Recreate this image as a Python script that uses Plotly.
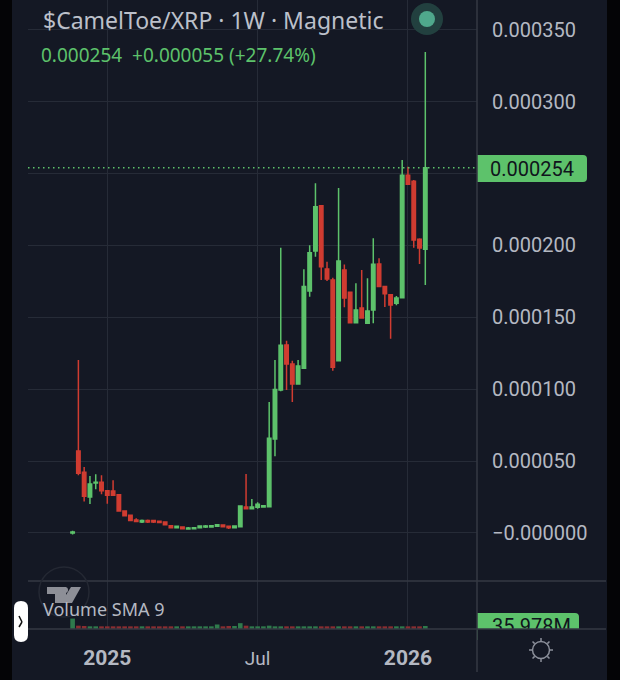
import math
import numpy as np
import plotly.graph_objects as go

W, H = 620, 680
FIG_H = 689  # the photo comes out a little squashed vertically, so the page is drawn taller

dates = ["2024-11-25", "2024-12-02", "2024-12-09", "2024-12-16", "2024-12-23", "2024-12-30",
         "2025-01-06", "2025-01-13", "2025-01-20", "2025-01-27", "2025-02-03", "2025-02-10", "2025-02-17", "2025-02-24",
         "2025-03-03", "2025-03-10", "2025-03-17", "2025-03-24", "2025-03-31", "2025-04-07", "2025-04-14", "2025-04-21", "2025-04-28",
         "2025-05-05", "2025-05-12", "2025-05-19", "2025-05-26", "2025-06-02", "2025-06-09", "2025-06-16", "2025-06-23", "2025-06-30",
         "2025-07-07", "2025-07-14", "2025-07-21", "2025-07-28", "2025-08-04", "2025-08-11", "2025-08-18", "2025-08-25",
         "2025-09-01", "2025-09-08", "2025-09-15", "2025-09-22", "2025-09-29", "2025-10-06", "2025-10-13", "2025-10-20", "2025-10-27",
         "2025-11-03", "2025-11-10", "2025-11-17", "2025-11-24", "2025-12-01", "2025-12-08", "2025-12-15", "2025-12-22", "2025-12-29",
         "2026-01-05", "2026-01-12", "2026-01-19", "2026-01-26"]

# prices in millionths of XRP
opens = [0.0, 57.0, 42.2, 25.0, 34.8, 35.2, 29.4, 29.2, 26.6, 15.3, 12.3, 9.0, 7.6, 8.6, 8.6, 8.1, 7.6, 5.1, 3.7, 4.2, 2.8,
         3.0, 3.7, 4.2, 4.2, 4.6, 5.6, 4.6, 3.7, 4.4, 18.1, 16.9, 17.8, 18.1, 18.3, 65.4, 99.4, 130.7, 117.5, 103.6, 114.5,
         168.2, 196.1, 227.6, 183.5, 175.9, 119.8, 182.9, 167.3, 146.2, 156.4, 145.8, 155.0, 187.0, 171.3, 165.7, 159.7,
         163.6, 248.7, 244.5, 204.2, 197.2]
highs = [1.5, 120.3, 45.9, 39.6, 40.8, 40.1, 29.4, 36.6, 26.9, 15.3, 12.3, 10.2, 9.3, 9.3, 9.1, 8.4, 7.6, 5.1, 4.6, 4.2, 4.2,
         4.0, 5.1, 5.6, 5.6, 5.8, 5.6, 4.6, 4.9, 18.8, 41.0, 23.6, 21.3, 19.0, 91.1, 120.3, 198.4, 133.7, 119.8, 120.3, 183.3,
         200.0, 243.1, 228.1, 188.6, 177.5, 239.9, 186.6, 167.3, 173.6, 182.9, 177.1, 204.9, 191.0, 171.8, 166.2, 164.8,
         259.3, 254.7, 245.4, 204.9, 334.5]
lows = [-1.0, 40.1, 21.8, 20.2, 30.4, 26.9, 20.4, 26.2, 15.3, 12.0, 8.6, 7.6, 6.9, 6.9, 7.0, 6.9, 5.8, 3.7, 3.7, 3.0, 2.3,
        2.8, 3.7, 3.5, 3.7, 4.6, 4.4, 2.8, 3.7, 4.4, 16.9, 16.9, 16.9, 18.1, 18.3, 53.3, 98.5, 99.4, 91.1, 103.6, 114.2,
        164.3, 192.1, 175.9, 175.2, 112.8, 119.8, 156.9, 146.2, 146.2, 149.5, 145.3, 145.8, 171.3, 157.1, 135.1, 158.3,
        163.6, 242.4, 198.4, 187.0, 172.4]
closes = [0.7, 41.5, 25.5, 34.1, 35.2, 29.4, 26.2, 26.2, 15.3, 12.0, 8.6, 7.9, 8.6, 7.6, 7.6, 7.2, 5.8, 3.7, 4.6, 3.0, 3.5,
          3.7, 4.9, 4.9, 5.1, 5.8, 4.4, 3.7, 4.9, 18.8, 16.9, 18.1, 19.9, 19.0, 65.8, 99.7, 130.5, 117.5, 103.6, 116.1, 171.3,
          194.9, 226.9, 185.2, 176.6, 115.2, 189.1, 163.4, 146.2, 155.0, 149.5, 154.3, 186.8, 171.3, 166.4, 158.5, 163.4,
          248.7, 242.4, 203.7, 198.2, 254.0]
# volume in millions
volumes = [125, 40, 36, 32, 32, 32, 32, 32, 32, 32, 32, 32, 32, 32, 32, 32, 32, 32, 32, 32, 32,
           32, 32, 32, 32, 54, 32, 36, 36, 70, 40, 32, 32, 32, 40, 32, 32, 32, 32, 32, 32,
           32, 32, 32, 32, 32, 32, 32, 32, 32, 32, 32, 32, 32, 32, 32, 32, 32, 32, 32, 32, 36]

price_ticks = [0.00035, 0.0003, 0.00025, 0.0002, 0.00015, 0.0001, 0.00005, 0.0]
price_labels = ["0.000350", "0.000300", "", "0.000200", "0.000150", "0.000100", "0.000050", "\u22120.000000"]
time_ticks = ["2025-01-06", "2025-07-07", "2026-01-05"]
time_labels = ['<span style="font-size:21px"><b>2025</b></span>', "Jul", '<span style="font-size:21px"><b>2026</b></span>']

BG = "#141824"
EDGE = "#040406"
GRID = "#262b37"
SEP = "#343843"
GREEN = "#5dc26b"
RED = "#d03c31"
TXT = "#b4b8c2"
FONT = "Roboto"


def px(x):
    return x / W


def py(y):
    return 1 - y / H


def rect(x0, y0, x1, y1, color, layer="below"):
    return dict(type="rect", xref="paper", yref="paper", x0=px(x0), x1=px(x1), y0=py(y0), y1=py(y1),
                fillcolor=color, line_width=0, layer=layer)


def line(x0, y0, x1, y1, color, width=1.5, layer="above"):
    return dict(type="line", xref="paper", yref="paper", x0=px(x0), x1=px(x1), y0=py(y0), y1=py(y1),
                line=dict(color=color, width=width), layer=layer)


def circle(cx, cy, r, fill, edge=None, layer="above"):
    return dict(type="circle", xref="paper", yref="paper", x0=px(cx - r), x1=px(cx + r), y0=py(cy - r), y1=py(cy + r),
                fillcolor=fill, line=dict(color=edge or "rgba(0,0,0,0)", width=1.5 if edge else 0), layer=layer)


def poly(points, color, layer="above"):
    d = "M" + " L".join("%.5f,%.5f" % (px(a), py(b)) for a, b in points) + " Z"
    return dict(type="path", xref="paper", yref="paper", path=d, fillcolor=color, line_width=0, layer=layer)


def rounded(x0, y0, x1, y1, rl, rr, color, layer="below"):
    # box with its own corner radius on each side
    d = "M%.5f,%.5f " % (px(x0 + rl), py(y0))
    d += "L%.5f,%.5f Q%.5f,%.5f %.5f,%.5f " % (px(x1 - rr), py(y0), px(x1), py(y0), px(x1), py(y0 + rr))
    d += "L%.5f,%.5f Q%.5f,%.5f %.5f,%.5f " % (px(x1), py(y1 - rr), px(x1), py(y1), px(x1 - rr), py(y1))
    d += "L%.5f,%.5f Q%.5f,%.5f %.5f,%.5f " % (px(x0 + rl), py(y1), px(x0), py(y1), px(x0), py(y1 - rl))
    d += "L%.5f,%.5f Q%.5f,%.5f %.5f,%.5f Z" % (px(x0), py(y0 + rl), px(x0), py(y0), px(x0 + rl), py(y0))
    return dict(type="path", xref="paper", yref="paper", path=d, fillcolor=color, line_width=0, layer=layer)


def label(x, y, text, size, color, anchor="left", family=FONT):
    return dict(xref="paper", yref="paper", x=px(x), y=py(y), text=text, showarrow=False, xanchor=anchor,
                yanchor="middle", font=dict(family=family, size=size, color=color), borderpad=0)


scale = 1e-6
vol_colors = ["#2f7a4c" if c >= o else "#8a2d31" for o, c in zip(opens, closes)]

fig = go.Figure()
fig.add_trace(go.Candlestick(
    x=dates,
    open=np.array(opens) * scale, high=np.array(highs) * scale,
    low=np.array(lows) * scale, close=np.array(closes) * scale,
    increasing=dict(line=dict(color=GREEN, width=1.5), fillcolor=GREEN),
    decreasing=dict(line=dict(color=RED, width=1.5), fillcolor=RED),
    whiskerwidth=0, xaxis="x", yaxis="y", showlegend=False))
fig.add_trace(go.Bar(x=dates, y=np.array(volumes) * 1e6, marker=dict(color=vol_colors, line_width=0),
                     xaxis="x2", yaxis="y2", showlegend=False))

x_range = ["2024-10-02", "2026-03-29 14:00"]
shapes = [
    rect(0, 0, 12, FIG_H, EDGE),
    rect(607, 0, W, FIG_H, EDGE),
    rounded(477, 155, 587, 182, 0, 4, GREEN),
    rounded(477, 613, 579, 640, 0, 4, GREEN),
    dict(type="line", xref="paper", yref="y", x0=px(28), x1=px(477),
         y0=closes[-1] * scale, y1=closes[-1] * scale, line=dict(color=GREEN, width=1.5, dash="1.5px,3.5px"), layer="above"),
    # cuts the volume label off at the bottom of its pane
    rect(477.5, 629, 606, 672, BG, layer="above"),
    line(28, 581, 606, 581, SEP),
    line(28, 629, 606, 629, SEP),
    line(477, 0, 477, 672, SEP),
    circle(427, 19, 16, "#22403f"),
    circle(427, 19, 8, "#4fa88c"),
    # TradingView mark
    circle(64, 592, 25, "rgba(0,0,0,0)", edge="#242833"),
    poly([(47, 587), (66, 587), (66, 603), (55, 603), (55, 594), (47, 594)], "#8d8f97"),
    poly([(71, 587), (81, 587), (72, 603), (61, 603)], "#8d8f97"),
    circle(65, 590, 3, "#8d8f97"),
    # side handle
    rounded(14, 601, 28, 642, 7, 7, "#ffffff", layer="above"),
    line(19, 616, 22, 622, "#111111", 1.5),
    line(22, 622, 19, 627, "#111111", 1.5),
    # settings icon
    circle(541, 650, 8.5, "rgba(0,0,0,0)", edge="#8b8f9a"),
]
for k in range(8):
    a = k * math.pi / 4
    shapes.append(line(541 + 9 * math.cos(a), 650 + 9 * math.sin(a), 541 + 12 * math.cos(a), 650 + 12 * math.sin(a), "#8b8f9a"))

annotations = [
    label(42, 20, "$CamelToe/XRP \u00b7 1W \u00b7 Magnetic", 23, "#bcc0ca", family="Noto Sans"),
    label(40, 55, "0.000254\u00a0 +0.000055 (+27.74%)", 19, GREEN, family="Noto Sans"),
    label(42, 609, "Volume SMA 9", 18, "#b4b8c2", family="Noto Sans"),
    label(532, 168.5, "0.000254", 20, "#10141c", anchor="center"),
]

fig.update_layout(
    width=W, height=FIG_H, autosize=False,
    margin=dict(l=0, r=0, t=0, b=0),
    paper_bgcolor=BG, plot_bgcolor="rgba(0,0,0,0)",
    font=dict(family=FONT, color=TXT),
    showlegend=False, boxgap=0.15, bargap=0.2,
    shapes=shapes, annotations=annotations,
    xaxis=dict(domain=[px(28), px(477)], range=x_range, anchor="y", type="date", rangeslider=dict(visible=False),
               tickmode="array", tickvals=time_ticks, showticklabels=False, ticks="",
               showgrid=True, gridcolor=GRID, gridwidth=1, zeroline=False),
    yaxis=dict(domain=[py(581), 1], range=[-33.4e-6, 370.6e-6], side="right", anchor="x",
               tickmode="array", tickvals=price_ticks, ticktext=price_labels,
               ticks="outside", ticklen=10, tickcolor="rgba(0,0,0,0)", tickfont=dict(family=FONT, size=20, color=TXT),
               showgrid=True, gridcolor=GRID, gridwidth=1, zeroline=False),
    xaxis2=dict(domain=[px(28), px(477)], range=x_range, anchor="y2", type="date",
                tickmode="array", tickvals=time_ticks, ticktext=time_labels,
                ticks="outside", ticklen=12, tickcolor="rgba(0,0,0,0)", tickfont=dict(family=FONT, size=19, color=TXT),
                showgrid=True, gridcolor=GRID, gridwidth=1, zeroline=False),
    yaxis2=dict(domain=[py(629), py(581)], range=[0, 576e6], side="right", anchor="x2",
                tickmode="array", tickvals=[35.978e6], ticktext=["35.978M"],
                ticks="outside", ticklen=10, tickcolor="rgba(0,0,0,0)", tickfont=dict(family=FONT, size=20, color="#10141c"),
                showgrid=False, zeroline=False),
)

fig.write_html("out.html", config=dict(displayModeBar=False),
               post_script="document.documentElement.style.background='#040406';document.body.style.background='#040406';document.body.style.margin='0';")
